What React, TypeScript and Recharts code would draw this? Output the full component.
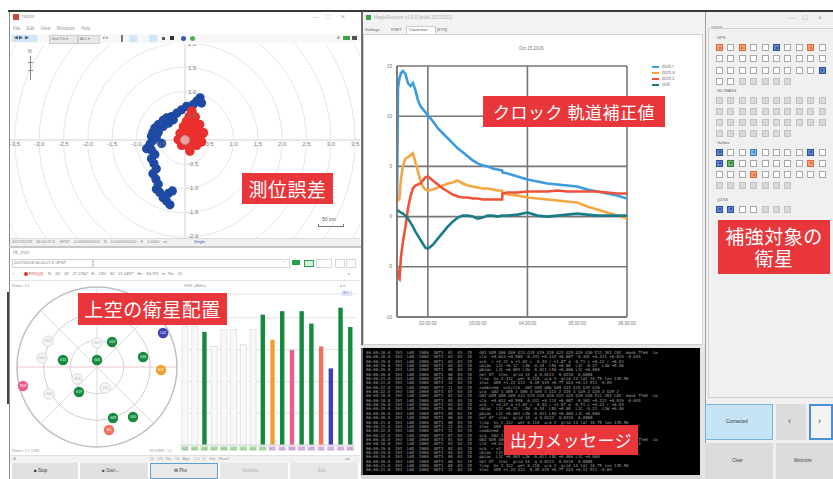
import React from 'react';
import {
  LineChart, Line, XAxis, YAxis, CartesianGrid, Legend,
  ScatterChart, Scatter, ReferenceDot, ReferenceLine,
  BarChart, Bar,
} from 'recharts';

// ---------- correction values (hours of day vs metres) ----------
const CORR_T = [1.38, 1.40, 1.43, 1.46, 1.5, 1.55, 1.6, 1.65, 1.7, 1.75, 1.8, 1.85, 1.9, 1.95, 2.0, 2.1, 2.2, 2.3, 2.4, 2.5, 2.6, 2.7, 2.8, 2.9, 3.0, 3.1, 3.2, 3.3, 3.4, 3.49, 3.5, 3.6, 3.8, 4.0, 4.2, 4.4, 4.6, 4.8, 5.0, 5.2, 5.4, 5.6, 5.8, 6.0];
const CORR_ORB_R = [1.5, 12.8, 13.8, 14.3, 14.5, 14.2, 13.3, 13.0, 13.3, 12.6, 11.6, 11.0, 10.7, 10.4, 10.1, 9.5, 8.8, 8.3, 7.8, 7.3, 6.8, 6.4, 6.0, 5.6, 5.3, 5.1, 5.0, 4.8, 4.7, 4.6, 4.4, 4.3, 4.0, 3.7, 3.5, 3.3, 3.2, 3.1, 3.0, 2.7, 2.5, 2.3, 2.1, 1.8];
const CORR_ORB_A = [1.5, 1.6, 1.8, 3.8, 5.0, 5.8, 5.9, 6.1, 6.3, 5.4, 4.5, 3.6, 3.0, 2.7, 2.6, 2.7, 2.9, 3.1, 3.3, 3.4, 3.6, 3.3, 3.1, 3.0, 2.9, 2.8, 2.8, 2.7, 2.6, 2.6, 2.4, 2.2, 2.1, 1.9, 1.8, 1.7, 1.6, 1.5, 1.4, 1.0, 0.7, 0.4, 0.1, -0.2];
const CORR_ORB_C = [-5.0, -6.0, -6.2, -4.0, -2.5, -1.0, 0.8, 2.0, 2.8, 3.1, 3.2, 3.3, 3.6, 3.9, 4.0, 3.6, 3.2, 2.8, 2.5, 2.2, 2.0, 1.9, 1.9, 1.8, 1.8, 1.7, 1.7, 1.7, 1.7, 1.7, 2.3, 2.4, 2.4, 2.5, 2.5, 2.5, 2.6, 2.5, 2.5, 2.5, 2.5, 2.4, 2.3, 2.3];
const CORR_CLK = [0.6, 0.6, 0.5, 0.4, 0.3, 0.1, -0.2, -0.6, -1.0, -1.5, -1.9, -2.3, -2.7, -3.1, -3.2, -2.8, -2.2, -1.6, -1.0, -0.5, -0.1, 0.1, 0.1, 0.0, -0.2, -0.1, 0.1, 0.1, 0.0, 0.1, 0.1, 0.1, 0.2, 0.4, 0.1, 0.0, 0.1, 0.2, 0.3, 0.2, 0.1, 0.1, 0.1, 0.1];
const CORR_XTICKS = [2, 3, 4, 5, 6];
const CORR_YTICKS = [-10, -5, 0, 5, 10, 15];
const CORR_SERIES = [
  { key: 'orbR', name: 'dorb.r', color: '#3b9be0' },
  { key: 'orbA', name: 'dorb.a', color: '#f6a640' },
  { key: 'orbC', name: 'dorb.c', color: '#ee5238' },
  { key: 'clk', name: 'dclk', color: '#187c8b' },
];

// ---------- position error, east/north in metres ----------
const POS_FLOAT: [number, number][] = [
  [0.31, 0.88], [0.34, 0.77], [0.24, 0.81], [0.17, 0.74], [0.03, 0.70], [-0.07, 0.63], [-0.17, 0.56],
  [-0.28, 0.49], [-0.38, 0.46], [-0.45, 0.41], [-0.24, 0.42], [-0.34, 0.35], [-0.45, 0.28], [-0.55, 0.32],
  [-0.62, 0.25], [-0.66, 0.16], [-0.55, 0.16], [-0.69, 0.08], [-0.59, 0.06], [-0.66, -0.01], [-0.48, -0.07],
  [-0.72, -0.08], [-0.79, -0.18], [-0.69, -0.21], [-0.62, -0.30], [-0.69, -0.39], [-0.64, -0.49], [-0.59, -0.60],
  [-0.66, -0.70], [-0.60, -0.81], [-0.55, -0.92], [-0.59, -1.02], [-0.52, -1.09], [-0.45, -1.20], [-0.38, -1.27],
  [-0.31, -1.35], [-0.34, -1.11], [-0.26, -1.06],
];
const POS_FIX: [number, number][] = [
  [0.14, 0.60], [0.09, 0.49], [0.21, 0.48], [0.03, 0.39], [0.17, 0.37], [0.30, 0.32], [-0.03, 0.28],
  [0.10, 0.25], [0.24, 0.21], [0.38, 0.15], [-0.10, 0.14], [0.03, 0.13], [0.21, 0.11], [0.31, 0.07],
  [-0.14, 0.01], [0.0, 0.0], [0.16, -0.01], [0.34, -0.04], [-0.07, -0.11], [0.07, -0.13], [0.24, -0.11],
  [0.10, -0.23],
];
const POS_XTICKS = [-3.5, -3, -2.5, -2, -1.5, -1, -0.5, 0.5, 1, 1.5, 2, 2.5, 3, 3.5];
const POS_YTICKS = [2, 1.5, 1, 0.5, -0.5, -1, -1.5, -2];
const POS_RINGS = [0.5, 1, 1.5, 2, 2.5, 3, 3.5, 4];

// ---------- sky view: east/north offsets in degrees from zenith ----------
const SKY_PRN = ['G13', 'G15', 'G05', 'G24', 'G19', 'G29', 'G20', 'C02', 'E11', 'R08', 'J01', 'G02', 'G06', 'G07', 'G09', 'G16', 'G30'];
const SKY_SYS = ['G', 'G', 'G', 'G', 'G', 'G', 'G', 'C', 'E', 'R', 'J', '-', '-', '-', '-', '-', '-'];
const SKY_E = [16.9, -38.3, 0, 51.8, -20.3, 18, 40.5, 74.3, 72, -83.3, 13.5, -55, -62, 0, -22.5, 9, -54];
const SKY_N = [28.1, 7.9, 7.9, 11.3, -28.1, -57.4, -56.3, 38.3, -3.4, -21.4, -70.9, 29, 10, 27, -13.5, -23.6, -30.4];

// ---------- signal strength per satellite (dB-Hz) ----------
const SNR_PRN = ['G02', 'G05', 'G06', 'G07', 'G09', 'G12', 'G13', 'G16', 'G19', 'E11', 'G20', 'R08', 'G23', 'G25', 'J01', 'C02', 'G29', 'G30'];
const SNR_SYS = ['-', '-', 'G', '-', '-', '-', '-', '-', 'G', 'E', 'G', 'R', 'G', 'G', 'J', 'C', 'G', 'G'];
const SNR_VAL = [47.4, 47.4, 45.6, 41, 46.3, 46.3, 41.6, 46.3, 51, 43.1, 52.1, 39.9, 52.1, 48.2, 41, 34.1, 53.2, 47.1];
const SNR_YTICKS = [20, 30, 40, 50];

// ---------- augmentation target check boxes ----------
const GPS_ROWS = ['o.o..b..o.', '..........', '.........b', '..xxxxx'];
const GLO_ROWS = ['xxxxxxxxxx', 'xxxxxxxxxx', 'xxxxxxxxxx', 'xxxxxxx'];
const GAL_ROWS = ['b..l....b.', 'bg......o.', '...o......', 'xxxxxxx'];
const QZS_ROWS = ['bb..xxx'];

// ---------- receiver message log ----------
const LOG_LINES = [
  '06:00:18.0  193  L6D  2000  4073  01  03  15   G02 G05 G06 G09 G13 G15 G19 G20 G23 G25 G29 G30 E11 J01 C02  mask 7fe0  iod 3',
  '06:00:18.0  193  L6D  2000  4073  03  03  15   clk  +0.612 +0.598 -0.231 +0.114 +0.087 -0.301 +0.221 +0.019 -0.044',
  '06:00:19.0  193  L6D  2000  4073  02  03  15   orb  r +2.31 a +1.02 c -0.44 r +1.87 a -0.71 c +0.22 r +0.93',
  '06:00:19.0  193  L6D  2000  4073  04  03  15   cbias  L1C +0.12  L2W -0.34  L5Q +0.08  L1C -0.21  L2W +0.40',
  '06:00:20.0  193  L6D  2000  4073  05  03  15   pbias  L1C +0.003 L2W -0.011 L5Q +0.006 L1C +0.000',
  '06:00:20.0  193  L6D  2000  4073  06  03  15   net 07  stec  grid 14  q 0.0123  0.0210  0.0088',
  '06:00:21.0  193  L6D  2000  4073  08  03  15   trop  hs 2.312  wet 0.118  ura 3  grid 14 lat 34.75 lon 135.50',
  '06:00:21.0  193  L6D  2000  4073  12  03  15   stec  G05 +1.22 G13 -0.45 G19 +0.77 G24 +0.11 E11 -0.09',
  '06:00:22.0  193  L6D  2000  4073  11  03  15   combined  orb/clk  G02 G05 G06 G09 G13 G15 G19 G20',
  '06:00:22.0  193  L6D  2000  4073  07  03  15   ura  G02 3 G05 2 G06 4 G09 3 G13 2 G15 3 G19 2 G20 3 G25 2',
];

const SYS_COLOR: Record<string, string> = {
  G: '#138a3e', E: '#f0a030', R: '#ec5b8e', J: '#f3705a', C: '#3f3fb5', '-': '#cccccc',
};

const corrRows = CORR_T.map((t, i) => ({
  t, orbR: CORR_ORB_R[i], orbA: CORR_ORB_A[i], orbC: CORR_ORB_C[i], clk: CORR_CLK[i],
}));
const floatRows = POS_FLOAT.map(([e, n]) => ({ e, n }));
const fixRows = POS_FIX.map(([e, n]) => ({ e, n }));
const skyRows = SKY_PRN.map((prn, i) => ({ prn, sys: SKY_SYS[i], e: SKY_E[i], n: SKY_N[i] }));
const snrRows = SNR_PRN.map((prn, i) => ({ prn, sys: SNR_SYS[i], snr: SNR_VAL[i] }));

const UI = '"Liberation Sans", Arial, sans-serif';
const JP = '"Noto Sans CJK JP", "Noto Sans", sans-serif';
const MONO = '"DejaVu Sans Mono", "Liberation Mono", monospace';

type S = React.CSSProperties;
const abs = (l: number, t: number, w: number, h: number, extra: S = {}): S => ({
  position: 'absolute', left: l, top: t, width: w, height: h, ...extra,
});

function T({ x, y, size = 5, color = '#9a9a9a', children, style }: { x: number; y: number; size?: number; color?: string; children: React.ReactNode; style?: S }) {
  return (
    <div style={{ position: 'absolute', left: x, top: y, fontSize: size, color, lineHeight: 1, whiteSpace: 'nowrap', fontFamily: UI, ...style }}>
      {children}
    </div>
  );
}

function WinControls({ x, y }: { x: number; y: number }) {
  return (
    <>
      <T x={x} y={y} size={6} color="#aaa">—</T>
      <T x={x + 14} y={y - 1} size={7} color="#aaa">□</T>
      <T x={x + 29} y={y - 1} size={7} color="#aaa">×</T>
    </>
  );
}

const PX_PER_M = 48.6;
const fmt1 = (v: number) => v.toFixed(1);

function PositionPlot() {
  return (
    <div style={abs(10, 44, 350, 194, { overflow: 'hidden' })}>
      <ScatterChart width={350} height={194} margin={{ top: 0, right: 0, bottom: 0, left: 0 }}>
        <XAxis type="number" dataKey="e" domain={[-3.6, 3.6]} hide allowDataOverflow />
        <YAxis type="number" dataKey="n" domain={[-2.04, 2.0]} hide allowDataOverflow />
        {POS_RINGS.map((r) => (
          <ReferenceDot key={r} x={0} y={0} r={r * PX_PER_M} fill="none" stroke="#e6e6e6" strokeWidth={1} />
        ))}
        <ReferenceLine x={0} stroke="#d2d2d2" />
        <ReferenceLine y={0} stroke="#d2d2d2" />
        {POS_XTICKS.map((v) => (
          <ReferenceDot key={'x' + v} x={v} y={0} r={0} fill="none" stroke="none"
            label={{ value: fmt1(v), position: 'bottom', offset: 2, fontSize: 6, fill: '#7a7a7a', fontFamily: UI }} />
        ))}
        {POS_YTICKS.map((v) => (
          <ReferenceDot key={'y' + v} x={0} y={v} r={0} fill="none" stroke="none"
            label={{ value: fmt1(v), position: 'right', offset: 3, fontSize: 6, fill: '#7a7a7a', fontFamily: UI }} />
        ))}
        <Scatter data={floatRows} isAnimationActive={false}
          shape={(p: any) => <circle cx={p.cx} cy={p.cy} r={4.6} fill="#1f4aa3" />} />
        <Scatter data={fixRows} isAnimationActive={false}
          shape={(p: any) => <circle cx={p.cx} cy={p.cy} r={4.8} fill="#ea2f2c" />} />
        <ReferenceDot x={0} y={0} r={4.5} fill="#ffffff" fillOpacity={0.55} stroke="#9a9a9a" strokeWidth={1} />
      </ScatterChart>
    </div>
  );
}

function PlotWindow() {
  return (
    <>
      <div style={abs(9, 12, 352, 236, { background: '#fff', borderLeft: '1px solid #8a8a8a' })} />
      <div style={abs(13, 14, 6, 6, { background: '#c94a3f' })} />
      <T x={22} y={15} size={4.5}>rtkplot</T>
      <WinControls x={312} y={14} />
      <T x={13} y={27} size={4.5} style={{ wordSpacing: 5 }}>File Edit View Windows Help</T>
      <div style={abs(10, 34, 350, 9, { background: '#f7f7f7' })} />
      <div style={abs(12, 35, 25, 7, { background: '#cfe7f6' })} />
      <T x={14} y={36} size={4.5} color="#557">◀ ▶ ▶</T>
      <div style={abs(49, 35, 27, 7, { background: '#e8e8e8', border: '1px solid #cfcfcf' })} />
      <T x={51} y={37} size={4} color="#777">Gnd Trk ▾</T>
      <div style={abs(78, 35, 20, 7, { background: '#e8e8e8', border: '1px solid #cfcfcf' })} />
      <T x={80} y={37} size={4} color="#777">ALL ▾</T>
      <T x={102} y={36} size={4.5} color="#999">◂ ▸</T>
      <div style={abs(121, 35, 2, 7, { background: '#777' })} />
      <div style={abs(129, 35, 8, 7, { background: '#cfe7f6' })} />
      <div style={abs(149, 35, 8, 7, { background: '#cfe7f6' })} />
      <div style={abs(162, 37, 3, 3, { background: '#555' })} />
      <div style={abs(170, 36, 4, 4, { background: '#333' })} />
      <div style={abs(181, 36, 5, 5, { background: '#3b55c4', borderRadius: 3 })} />
      <div style={abs(190, 36, 5, 5, { background: '#4bb04b', borderRadius: 3 })} />
      <div style={abs(337, 36, 3, 3, { background: '#aaa', borderRadius: 2 })} />
      <div style={abs(343, 36, 7, 4, { background: '#3aa046' })} />
      <div style={abs(352, 36, 5, 4, { background: '#555' })} />
      <PositionPlot />
      {/* north arrow */}
      <T x={28} y={49} size={5} color="#666">N</T>
      <div style={abs(30, 56, 1, 24, { background: '#888' })} />
      <div style={abs(28, 62, 5, 1, { background: '#888' })} />
      <div style={abs(28, 70, 5, 1, { background: '#888' })} />
      {/* scale */}
      <T x={322} y={217} size={5} color="#555">50 cm</T>
      <div style={abs(318, 226, 26, 1, { background: '#777' })} />
      <div style={abs(318, 224, 1, 3, { background: '#777' })} />
      <div style={abs(343, 224, 1, 3, { background: '#777' })} />
      {/* status bar */}
      <div style={abs(10, 238, 350, 8, { background: '#f0f0f0', borderTop: '1px solid #ddd' })} />
      <T x={12} y={240} size={4} color="#888" style={{ wordSpacing: 3 }}>2017/02/18 06:00:27.0 GPST  0.0000000000 N  0.0000000000 E  0.0000 m</T>
      <T x={194} y={240} size={4} color="#3060d0">Single</T>
      <div style={abs(9, 246, 352, 2, { background: '#c8c8c8' })} />
    </>
  );
}

function SkyPlot() {
  const d45 = 90 * Math.SQRT1_2;
  return (
    <div style={abs(7, 277, 180, 180)}>
      <ScatterChart width={180} height={180} margin={{ top: 10, right: 10, bottom: 10, left: 10 }}>
        <XAxis type="number" dataKey="e" domain={[-90, 90]} hide allowDataOverflow />
        <YAxis type="number" dataKey="n" domain={[-90, 90]} hide allowDataOverflow />
        <ReferenceLine x={0} stroke="#dcdcdc" />
        <ReferenceLine y={0} stroke="#ecc9cc" />
        <ReferenceLine segment={[{ x: -d45, y: d45 }, { x: d45, y: -d45 }]} stroke="#dcdcdc" />
        <ReferenceLine segment={[{ x: -d45, y: -d45 }, { x: d45, y: d45 }]} stroke="#dcdcdc" />
        <ReferenceDot x={0} y={0} r={26.7} fill="none" stroke="#d4d4d4" />
        <ReferenceDot x={0} y={0} r={53.3} fill="none" stroke="#cfcfcf" />
        <ReferenceDot x={0} y={0} r={80} fill="none" stroke="#bdbdbd" strokeWidth={1.4} />
        <Scatter data={skyRows} isAnimationActive={false}
          shape={(p: any) => {
            const used = p.payload.sys !== '-';
            return (
              <g>
                <circle cx={p.cx} cy={p.cy} r={5.2} fill={used ? SYS_COLOR[p.payload.sys] : '#f7f7f7'}
                  stroke={used ? 'none' : '#cfcfcf'} strokeWidth={0.8} />
                <text x={p.cx} y={p.cy + 1.2} textAnchor="middle" fontSize={3.3} fontFamily={UI}
                  fill={used ? '#ffffff' : '#b0b0b0'}>{p.payload.prn}</text>
              </g>
            );
          }} />
      </ScatterChart>
    </div>
  );
}

function SnrTick(props: any) {
  const { x, y, payload } = props;
  const idx = SNR_PRN.indexOf(payload.value);
  const gps = idx < 9;
  return (
    <g>
      <rect x={x - 4} y={y + 0.5} width={8} height={5.5} fill={gps ? '#cfeccd' : '#ead6f0'} />
      <text x={x} y={y + 4.5} textAnchor="middle" fontSize={3.2} fontFamily={UI} fill={gps ? '#3b8a3b' : '#8a4ca0'}>
        {payload.value}
      </text>
    </g>
  );
}

function SnrBars() {
  return (
    <div style={abs(180, 288, 185, 166)}>
      <BarChart width={185} height={166} data={snrRows} margin={{ top: 6, right: 0, bottom: 0, left: 0 }} barSize={6}>
        <CartesianGrid vertical={false} stroke="#e4e4e4" />
        <XAxis dataKey="prn" interval={0} height={9} tickLine={false} tickSize={0} tickMargin={0}
          axisLine={{ stroke: '#dcdcdc' }} tick={<SnrTick />} />
        <YAxis orientation="right" domain={[10, 57.5]} ticks={SNR_YTICKS} width={10} allowDataOverflow
          tickLine={false} axisLine={false} tick={{ fontSize: 4.5, fill: '#888', fontFamily: UI }} tickMargin={1} />
        <Bar dataKey="snr" isAnimationActive={false}
          shape={(p: any) => {
            const used = p.payload.sys !== '-';
            if (!used) {
              return <rect x={p.x} y={p.y} width={p.width} height={p.height} fill="#f8f8f8" stroke="#e0e0e0" strokeWidth={0.8} />;
            }
            return <rect x={p.x + p.width / 2 - 2.2} y={p.y} width={4.4} height={p.height} fill={SYS_COLOR[p.payload.sys]} />;
          }} />
      </BarChart>
    </div>
  );
}

function MonitorWindow() {
  return (
    <>
      <div style={abs(9, 248, 352, 231, { background: '#fff', borderLeft: '1px solid #8a8a8a' })} />
      <div style={abs(7, 292, 2, 112, { background: '#444' })} />
      <T x={13} y={251} size={4.5}>rtk_mon</T>
      <div style={abs(12, 259, 80, 7, { border: '1px solid #d0d0d0', background: '#fff' })} />
      <T x={14} y={261} size={4} color="#777">2017/02/18 06:00:27.0   GPST</T>
      <div style={abs(92, 259, 196, 7, { border: '1px solid #d8d8d8' })} />
      <T x={283} y={260} size={4.5} color="#aaa">‹</T>
      <div style={abs(292, 260, 8, 5, { background: '#27a14a' })} />
      <div style={abs(304, 260, 8, 5, { background: '#d6efd9', border: '1px solid #27a14a' })} />
      <div style={abs(316, 259, 14, 7, { border: '1px solid #d8d8d8' })} />
      <div style={abs(335, 259, 8, 7, { border: '1px solid #d8d8d8' })} />
      <div style={abs(346, 259, 8, 7, { border: '1px solid #d8d8d8' })} />
      <T x={13} y={272} size={4.5} color="#999">›</T>
      <div style={abs(24, 272, 4, 4, { background: '#e03030', borderRadius: 2 })} />
      <T x={29} y={272} size={4} color="#e03030">FIX(QZ)</T>
      <T x={48} y={272} size={4} color="#777" style={{ wordSpacing: 2 }}>N: 34° 45' 27.2760"  E: 135° 30' 21.3497"  He: 84.792 m  Ns: 15</T>
      <T x={348} y={272} size={4} color="#999">▾</T>
      <div style={abs(10, 280, 350, 1, { background: '#e6e6e6' })} />
      <T x={12} y={284} size={4} color="#999">Rover: L1</T>
      <T x={184} y={284} size={4} color="#999">SNR (dBHz)</T>
      <T x={340} y={284} size={4} color="#999">▴ ▾</T>
      <div style={abs(342, 291, 10, 5, { background: '#e3e6f8' })} />
      <T x={343} y={292} size={3.2} color="#6677cc">ALL</T>
      <SkyPlot />
      <SnrBars />
      <T x={12} y={449} size={4} color="#999">Rover: L1 C/N0</T>
      <T x={150} y={449} size={4} color="#999">ROVER : L1</T>
      <div style={abs(10, 455, 350, 7, { background: '#f2f2f2', borderTop: '1px solid #e0e0e0' })} />
      <T x={13} y={457} size={4} color="#999">⊞</T>
      <T x={150} y={457} size={4} color="#999" style={{ wordSpacing: 2 }}>Q: 1/5  Ns: 15  Age: 1.0  (1 Hz)  Reset</T>
      <T x={345} y={457} size={4} color="#999">◂ ▸</T>
      <div style={abs(12, 463, 66, 16, { background: '#e1e1e1' })} />
      <T x={34} y={469} size={4.5} color="#333">■ Stop</T>
      <div style={abs(80, 463, 68, 16, { background: '#e1e1e1' })} />
      <T x={102} y={469} size={4.5} color="#555">■ Start...</T>
      <div style={abs(150, 463, 68, 16, { background: '#e9e9e9', border: '1.5px solid #5aa0d8', boxSizing: 'border-box' })} />
      <T x={174} y={469} size={4.5} color="#444">⊞ Plot</T>
      <div style={abs(220, 463, 68, 16, { background: '#e7e7e7' })} />
      <T x={242} y={469} size={4.5} color="#b0b0b0">Options...</T>
      <div style={abs(290, 463, 68, 16, { background: '#e7e7e7' })} />
      <T x={318} y={469} size={4.5} color="#b0b0b0">Exit</T>
    </>
  );
}

function CorrectionLegend(props: any) {
  const items = [...(props.payload || [])].sort(
    (a: any, b: any) => CORR_SERIES.findIndex((s) => s.name === a.value) - CORR_SERIES.findIndex((s) => s.name === b.value),
  );
  return (
    <div style={{ fontFamily: UI, fontSize: 4.5, color: '#888', lineHeight: '6px' }}>
      {items.map((it: any) => (
        <div key={it.value} style={{ display: 'flex', alignItems: 'center', height: 6 }}>
          <span style={{ display: 'inline-block', width: 7, height: 2, background: it.color, marginRight: 3 }} />
          {it.value}
        </div>
      ))}
    </div>
  );
}

function ReceiverWindow() {
  return (
    <>
      <div style={abs(361, 12, 344, 336, { background: '#f2f2f2', borderLeft: '2px solid #6c6c6c', boxSizing: 'border-box' })} />
      <div style={abs(366, 15, 5, 5, { background: '#3aa24a' })} />
      <T x={374} y={16} size={4.5} color="#b0b0b0">MagicReceiver v1.0.0 (build 20170201)</T>
      <T x={365} y={28} size={4} color="#666">Settings</T>
      <T x={391} y={28} size={4} color="#666">RSRT</T>
      <div style={abs(406, 26, 28, 8, { background: '#fff', border: '1px solid #ccc', borderBottom: 'none' })} />
      <T x={409} y={28} size={4} color="#555">Correction</T>
      <T x={437} y={28} size={4} color="#666">[STR]</T>
      <div style={abs(363, 34, 340, 311, { background: '#fff', border: '1px solid #d0d0d0', boxSizing: 'border-box' })} />
      <T x={519} y={47} size={4.5} color="#777">Oct 15 2016</T>
      <div style={abs(362, 35, 341, 300)}>
        <LineChart width={341} height={300} data={corrRows} margin={{ top: 31, right: 76, bottom: 6, left: 10 }}>
          <CartesianGrid stroke="#767676" strokeWidth={1.6} />
          <XAxis dataKey="t" type="number" domain={[1.38, 6]} ticks={CORR_XTICKS} allowDataOverflow
            tickFormatter={(h: number) => `0${h}:00:00`} height={12} tickLine={false} axisLine={{ stroke: '#767676', strokeWidth: 1.6 }}
            tickSize={3} tick={{ fontSize: 4.5, fill: '#777', fontFamily: UI }} />
          <YAxis domain={[-10, 15]} ticks={CORR_YTICKS} width={25} allowDataOverflow tickLine={false}
            axisLine={{ stroke: '#767676', strokeWidth: 1.6 }} tickSize={3}
            tick={{ fontSize: 4.5, fill: '#777', fontFamily: UI }} />
          <Legend layout="vertical" align="center" verticalAlign="middle"
            wrapperStyle={{ top: 29, left: 290, width: 40 }} content={<CorrectionLegend />} />
          {CORR_SERIES.map((s) => (
            <Line key={s.key} type="linear" dataKey={s.key} name={s.name} stroke={s.color}
              strokeWidth={2.6} dot={false} isAnimationActive={false} />
          ))}
        </LineChart>
      </div>
      <div style={abs(361, 345, 344, 3, { background: '#e6e6e6' })} />
    </>
  );
}

function ConsolePane() {
  const lines: string[] = [];
  for (let k = 0; k < 3; k++) lines.push(...LOG_LINES);
  return (
    <>
      <div style={abs(361, 348, 340, 127, { background: '#000', borderLeft: '2px solid #6c6c6c', boxSizing: 'border-box' })} />
      <div style={abs(366, 351, 292, 122, { overflow: 'hidden' })}>
        {lines.slice(0, 28).map((ln, i) => (
          <div key={i} style={{ fontFamily: MONO, fontSize: 4, lineHeight: '4.35px', height: 4.35, color: '#a9a9a9', whiteSpace: 'pre' }}>{ln}</div>
        ))}
      </div>
      <div style={abs(700, 348, 5, 131, { background: '#e4e4e4' })} />
      <div style={abs(361, 475, 340, 4, { background: '#d8d8d8' })} />
    </>
  );
}

function CheckRow({ x, y, states }: { x: number; y: number; states: string }) {
  const fill: Record<string, [string, string]> = {
    '.': ['#ffffff', '#a8a8a8'], x: ['#d9d9d9', '#c2c2c2'], o: ['#f2a07a', '#dd6a3a'],
    b: ['#5f82c9', '#2f4f9f'], l: ['#7fb6e6', '#3c7fc0'], g: ['#6fb36f', '#2f7f3a'],
  };
  return (
    <>
      {states.split('').map((c, i) => {
        const [bg, bd] = fill[c];
        const checked = c !== '.' && c !== 'x';
        return (
          <div key={i} style={abs(x + i * 11.4, y, 7, 7, { background: bg, border: `1px solid ${bd}`, boxSizing: 'border-box' })}>
            {checked && <div style={abs(1.5, 1.5, 2, 2, { background: bd })} />}
          </div>
        );
      })}
    </>
  );
}

function SatellitePanel() {
  const rowsAt = (top: number, rows: string[]) =>
    rows.map((r, i) => <CheckRow key={top + '-' + i} x={716} y={top + i * 11.3} states={r} />);
  return (
    <>
      <div style={abs(705, 12, 128, 467, { background: '#f0f0f0', borderLeft: '1px solid #9a9a9a' })} />
      <WinControls x={789} y={15} />
      <div style={abs(708, 28, 126, 370, { border: '1px solid #d2d2d2', boxSizing: 'border-box' })} />
      <T x={710} y={26} size={4} color="#777" style={{ background: '#f0f0f0', padding: '0 1px' }}>GNSS</T>
      <T x={717} y={36} size={4} color="#666">GPS</T>
      {rowsAt(44, GPS_ROWS)}
      <T x={717} y={89} size={4} color="#666">GLONASS</T>
      {rowsAt(96.5, GLO_ROWS)}
      <T x={717} y={141} size={4} color="#666">Galileo</T>
      {rowsAt(148.5, GAL_ROWS)}
      <T x={717} y={198} size={4} color="#666">QZSS</T>
      {rowsAt(205.5, QZS_ROWS)}
      <div style={abs(705, 404, 68, 36, { background: '#c6e4f6', border: '1px solid #74b4e2', boxSizing: 'border-box' })} />
      <T x={726} y={420} size={4.5} color="#333">Connected</T>
      <div style={abs(776, 404, 30, 36, { background: '#dcdcdc' })} />
      <T x={788} y={417} size={9} color="#444">‹</T>
      <div style={abs(809, 404, 24, 36, { background: '#f3f3f3', border: '2px solid #4a8fd2', boxSizing: 'border-box' })} />
      <T x={818} y={417} size={9} color="#333">›</T>
      <div style={abs(705, 443, 68, 36, { background: '#dcdcdc' })} />
      <T x={732} y={459} size={4.5} color="#444">Clear</T>
      <div style={abs(776, 443, 57, 36, { background: '#dcdcdc' })} />
      <T x={794} y={459} size={4.5} color="#444">Minimize</T>
    </>
  );
}

function Callout({ l, t, w, h, size, children }: { l: number; t: number; w: number; h: number; size: number; children: React.ReactNode }) {
  return (
    <div style={abs(l, t, w, h, {
      background: '#e8363b', color: '#fff', fontFamily: JP, fontSize: size, fontWeight: 400,
      display: 'flex', alignItems: 'center', justifyContent: 'center', textAlign: 'center',
      lineHeight: 1.15, whiteSpace: 'pre-line', letterSpacing: 0.5,
    })}>
      {children}
    </div>
  );
}

export default function App() {
  return (
    <div style={{ position: 'absolute', left: 0, top: 0, width: 833, height: 479, overflow: 'hidden', background: '#fff', fontFamily: UI }}>
      <div style={abs(8, 10, 825, 2, { background: '#3a3a3a' })} />
      <PlotWindow />
      <MonitorWindow />
      <ReceiverWindow />
      <ConsolePane />
      <SatellitePanel />
      <Callout l={242} t={173} w={91} h={31} size={19}>測位誤差</Callout>
      <Callout l={483} t={96} w={182} h={31} size={17}>{'クロック 軌道補正値'}</Callout>
      <Callout l={78} t={293} w={149} h={32} size={19}>上空の衛星配置</Callout>
      <Callout l={718} t={220} w={112} h={54} size={19}>{'補強対象の\n衛星'}</Callout>
      <Callout l={504} t={425} w={134} h={30} size={17}>出力メッセージ</Callout>
    </div>
  );
}
